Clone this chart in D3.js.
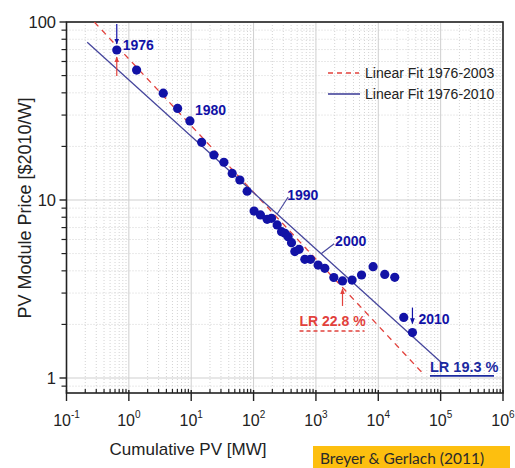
<!DOCTYPE html>
<html>
<head>
<meta charset="utf-8">
<script src="https://cdn.jsdelivr.net/npm/d3@7"></script>
<style>
  body { margin: 0; background: #fff; }
  svg { display: block; font-family: Arial, "Liberation Sans", sans-serif; }
</style>
</head>
<body>
<svg id="chart" width="515" height="468"></svg>
<script>
// yearly points, 1976..2010
const years = [1976, 1977, 1978, 1979, 1980, 1981, 1982, 1983, 1984, 1985, 1986, 1987,
  1988, 1989, 1990, 1991, 1992, 1993, 1994, 1995, 1996, 1997, 1998, 1999, 2000, 2001,
  2002, 2003, 2004, 2005, 2006, 2007, 2008, 2009, 2010];
const cumulativePV = [0.64, 1.33, 3.56, 6.05, 9.53, 14.7, 23.1, 33.4, 45.4, 60.3, 78.9, 102,
  129, 165, 194, 239, 281, 318, 358, 406, 459, 538, 664, 819, 1084, 1389,
  1936, 2668, 3802, 5383, 8260, 12700, 18370, 25600, 35300];
const modulePrice = [69.6, 53.7, 39.8, 32.7, 27.8, 21.1, 17.9, 16.3, 14.1, 12.95, 11.2, 8.67,
  8.24, 7.79, 7.89, 7.24, 6.64, 6.50, 6.22, 5.76, 5.13, 5.28, 4.64, 4.64, 4.31, 4.13,
  3.67, 3.51, 3.55, 3.79, 4.22, 3.82, 3.68, 2.19, 1.80];

// fit lines, end points [MW, $/W]
const fit1976to2003 = [[0.279, 100], [52000, 1.06]];
const fit1976to2010 = [[0.215, 76.9], [109000, 1.2]];

const legendLabels = ["Linear Fit 1976-2003", "Linear Fit 1976-2010"];
const learningRates = ["LR 22.8 %", "LR 19.3 %"];
const xTickExponents = [-1, 0, 1, 2, 3, 4, 5, 6];
const yTickValues = [1, 10, 100];

const blue = "#1212a6", fitBlue = "#45459c", red = "#e2413c";

const svg = d3.select("#chart");
const plotL = 66.5, plotR = 503, plotT = 22, plotB = 393;

const x = d3.scaleLog().domain([0.1, 1e6]).range([plotL, plotR]);
const y = d3.scaleLog().domain([Math.pow(10, -15 / 178), 100]).range([plotB, plotT]);

// markers for the small arrows
const defs = svg.append("defs");
[["arrowBlue", blue], ["arrowRed", red]].forEach(([id, c]) => {
  defs.append("marker")
    .attr("id", id)
    .attr("viewBox", "0 0 10 10")
    .attr("refX", 9).attr("refY", 5)
    .attr("markerWidth", 5).attr("markerHeight", 5)
    .attr("orient", "auto")
    .append("path")
    .attr("d", "M0,1 L10,5 L0,9 Z")
    .attr("fill", c);
});
defs.append("clipPath").attr("id", "plotClip")
  .append("rect")
  .attr("x", plotL).attr("y", plotT)
  .attr("width", plotR - plotL).attr("height", plotB - plotT);

// grid
const xMinor = [], yMinor = [];
for (let e = -1; e < 6; e++) for (let k = 2; k <= 9; k++) xMinor.push(k * Math.pow(10, e));
yMinor.push(0.9);
for (let e = 0; e < 2; e++) for (let k = 2; k <= 9; k++) yMinor.push(k * Math.pow(10, e));
const xMajor = xTickExponents.map(e => Math.pow(10, e));

const grid = svg.append("g");
grid.selectAll("line.xminor").data(xMinor).join("line")
  .attr("x1", d => x(d)).attr("x2", d => x(d))
  .attr("y1", plotT).attr("y2", plotB)
  .attr("stroke", "#d3d3d3").attr("stroke-dasharray", "1,2");
grid.selectAll("line.yminor").data(yMinor).join("line")
  .attr("y1", d => y(d)).attr("y2", d => y(d))
  .attr("x1", plotL).attr("x2", plotR)
  .attr("stroke", "#d3d3d3").attr("stroke-dasharray", "1,2");
grid.selectAll("line.xmajor").data(xMajor.slice(1, -1)).join("line")
  .attr("x1", d => x(d)).attr("x2", d => x(d))
  .attr("y1", plotT).attr("y2", plotB)
  .attr("stroke", "#cfcfcf");
grid.selectAll("line.ymajor").data(yTickValues).join("line")
  .attr("y1", d => y(d)).attr("y2", d => y(d))
  .attr("x1", plotL).attr("x2", plotR)
  .attr("stroke", "#cfcfcf");

// axes
const xAxis = svg.append("g");
xAxis.selectAll("line.minor").data(xMinor).join("line")
  .attr("x1", d => x(d)).attr("x2", d => x(d))
  .attr("y1", plotB).attr("y2", plotB - 4)
  .attr("stroke", "#222").attr("stroke-width", 1.2);
xAxis.selectAll("line.major").data(xMajor).join("line")
  .attr("x1", d => x(d)).attr("x2", d => x(d))
  .attr("y1", plotB - 3).attr("y2", plotB + 8)
  .attr("stroke", "#222").attr("stroke-width", 1.4);
const xLabels = xAxis.selectAll("text").data(xTickExponents).join("text")
  .attr("x", d => x(Math.pow(10, d)))
  .attr("y", 426)
  .attr("text-anchor", "middle")
  .attr("font-size", 16)
  .attr("fill", "#222");
xLabels.append("tspan").text("10");
xLabels.append("tspan").attr("dy", -8).attr("font-size", 10).text(d => d);

const yAxis = svg.append("g");
yAxis.selectAll("line.minor").data(yMinor).join("line")
  .attr("y1", d => y(d)).attr("y2", d => y(d))
  .attr("x1", plotL).attr("x2", plotL - 5)
  .attr("stroke", "#222").attr("stroke-width", 1.2);
yAxis.selectAll("line.major").data(yTickValues).join("line")
  .attr("y1", d => y(d)).attr("y2", d => y(d))
  .attr("x1", plotL).attr("x2", plotL - 7)
  .attr("stroke", "#222").attr("stroke-width", 1.4);
yAxis.selectAll("text").data(yTickValues).join("text")
  .attr("x", 56)
  .attr("y", d => y(d) + 6)
  .attr("text-anchor", "end")
  .attr("font-size", 16.5)
  .attr("fill", "#222")
  .text(d => d);

svg.append("rect")
  .attr("x", plotL).attr("y", plotT)
  .attr("width", plotR - plotL).attr("height", plotB - plotT)
  .attr("fill", "none").attr("stroke", "#222").attr("stroke-width", 1.6);

// axis titles
svg.append("text")
  .attr("x", 188).attr("y", 455)
  .attr("text-anchor", "middle")
  .attr("font-size", 17).attr("fill", "#222")
  .text("Cumulative PV [MW]");
svg.append("text")
  .attr("transform", "translate(31,208) rotate(-90)")
  .attr("text-anchor", "middle")
  .attr("font-size", 18).attr("fill", "#222")
  .text("PV Module Price [$2010/W]");

// fit lines
const line = d3.line().x(d => x(d[0])).y(d => y(d[1]));
const plot = svg.append("g").attr("clip-path", "url(#plotClip)");
plot.append("path").datum(fit1976to2003)
  .attr("d", line)
  .attr("fill", "none").attr("stroke", red)
  .attr("stroke-width", 1.3).attr("stroke-dasharray", "6,5");
plot.append("path").datum(fit1976to2010)
  .attr("d", line)
  .attr("fill", "none").attr("stroke", fitBlue)
  .attr("stroke-width", 1.3);

// data points
const points = years.map((yr, i) => ({ year: yr, pv: cumulativePV[i], price: modulePrice[i] }));
svg.append("g").selectAll("circle").data(points).join("circle")
  .attr("cx", d => x(d.pv))
  .attr("cy", d => y(d.price))
  .attr("r", 4.6)
  .attr("fill", blue);

// value on the 1976-2010 fit at a given cumulative PV
const [[a0, p0], [a1, p1]] = fit1976to2010;
const fitAt = mw => Math.exp(Math.log(p0) + (Math.log(mw) - Math.log(a0)) *
  (Math.log(p1) - Math.log(p0)) / (Math.log(a1) - Math.log(a0)));

// annotations
const ann = svg.append("g")
  .attr("font-family", "'Liberation Sans Narrow', 'Arial Narrow', Arial, sans-serif")
  .attr("font-weight", "bold");
const byYear = yr => points.find(p => p.year === yr);

function arrow(x0, y0, y1, color, marker) {
  ann.append("line")
    .attr("x1", x0).attr("x2", x0).attr("y1", y0).attr("y2", y1)
    .attr("stroke", color).attr("stroke-width", 1.2)
    .attr("marker-end", `url(#${marker})`);
}
function yearLabel(tx, ty, text) {
  ann.append("text").attr("x", tx).attr("y", ty)
    .attr("font-size", 14).attr("fill", blue).text(text);
}

let p = byYear(1976);
let px = x(p.pv), py = y(p.price);
arrow(px, py - 26, py - 6, blue, "arrowBlue");
arrow(px, py + 26, py + 7, red, "arrowRed");
yearLabel(px + 6, py, "1976");

p = byYear(1980);
yearLabel(x(p.pv) + 5, y(p.price) - 6, "1980");

p = byYear(1991);
let lx = x(p.pv), ly = y(fitAt(p.pv));
ann.append("line").attr("x1", lx).attr("y1", ly).attr("x2", lx + 11).attr("y2", ly - 17)
  .attr("stroke", fitBlue).attr("stroke-width", 1.1);
yearLabel(lx + 10, ly - 14, "1990");

p = byYear(2000);
lx = x(p.pv) + 3; ly = y(fitAt(x.invert(lx)));
ann.append("line").attr("x1", lx).attr("y1", ly).attr("x2", lx + 13).attr("y2", ly - 10)
  .attr("stroke", fitBlue).attr("stroke-width", 1.1);
yearLabel(lx + 14, ly - 8, "2000");

p = byYear(2003);
px = x(p.pv); py = y(p.price);
arrow(px, py + 25, py + 8, red, "arrowRed");
ann.append("text").attr("x", px - 43).attr("y", py + 45)
  .attr("font-family", "Arial, sans-serif")
  .attr("font-size", 14).attr("fill", red).text(learningRates[0]);
ann.append("line").attr("x1", px - 43).attr("x2", px + 22)
  .attr("y1", py + 50).attr("y2", py + 50)
  .attr("stroke", red).attr("stroke-width", 1.4).attr("stroke-dasharray", "4,3");

p = byYear(2010);
px = x(p.pv); py = y(p.price);
arrow(px, py - 25, py - 9, blue, "arrowBlue");
yearLabel(px + 6, py - 9, "2010");

const ex = x(fit1976to2010[1][0]), ey = y(fit1976to2010[1][1]);
ann.append("text").attr("x", ex - 13).attr("y", ey + 8)
  .attr("font-family", "Arial, sans-serif")
  .attr("font-size", 14.5).attr("fill", "#1c2aa0").text(learningRates[1]);
ann.append("line").attr("x1", ex - 13).attr("x2", ex + 51)
  .attr("y1", ey + 12).attr("y2", ey + 12)
  .attr("stroke", "#1c2aa0").attr("stroke-width", 1.6);

// legend
const legend = svg.append("g").attr("transform", "translate(328,73)");
legend.append("line").attr("x1", 0).attr("x2", 31).attr("y1", 0).attr("y2", 0)
  .attr("stroke", red).attr("stroke-width", 1.3).attr("stroke-dasharray", "5,4");
legend.append("line").attr("x1", 0).attr("x2", 32).attr("y1", 21).attr("y2", 21)
  .attr("stroke", fitBlue).attr("stroke-width", 1.6);
legend.selectAll("text").data(legendLabels).join("text")
  .attr("x", 37).attr("y", (d, i) => i * 21 + 5)
  .attr("font-size", 14).attr("fill", "#222")
  .text(d => d);

// source box
svg.append("rect").attr("x", 313).attr("y", 446).attr("width", 197).attr("height", 22)
  .attr("fill", "#fdbf0f");
svg.append("text").attr("x", 320).attr("y", 464)
  .attr("font-family", "Lato, 'Open Sans', sans-serif")
  .attr("font-size", 15.5).attr("fill", "#2a2a2a")
  .text("Breyer & Gerlach (2011)");
</script>
</body>
</html>
